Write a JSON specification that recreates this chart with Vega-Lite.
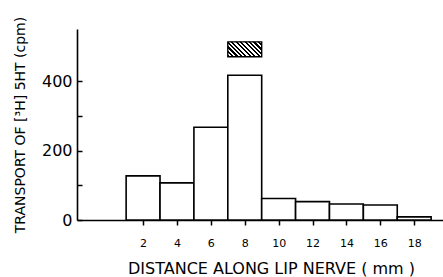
{
  "$schema": "https://vega.github.io/schema/vega-lite/v6.json",
  "width": 366,
  "height": 191,
  "autosize": {"type": "none"},
  "padding": {"left": 77, "top": 29, "right": 0, "bottom": 57},
  "background": "white",
  "config": {
    "view": {"stroke": null},
    "font": "DejaVu Sans",
    "axis": {
      "grid": false,
      "domainColor": "black",
      "domainWidth": 1.6,
      "tickColor": "black",
      "tickWidth": 1.5,
      "labelColor": "black",
      "titleColor": "black",
      "labelFont": "DejaVu Sans",
      "titleFont": "DejaVu Sans",
      "titleFontWeight": "normal"
    }
  },
  "layer": [
    {
      "data": {
        "values": [
          {"start": 1, "end": 3, "transport": 127},
          {"start": 3, "end": 5, "transport": 107},
          {"start": 5, "end": 7, "transport": 267},
          {"start": 7, "end": 9, "transport": 417},
          {"start": 9, "end": 11, "transport": 62},
          {"start": 11, "end": 13, "transport": 53},
          {"start": 13, "end": 15, "transport": 46},
          {"start": 15, "end": 17, "transport": 43},
          {"start": 17, "end": 19, "transport": 9}
        ]
      },
      "mark": {"type": "rect", "fill": "white", "stroke": "black", "strokeWidth": 1.6},
      "encoding": {
        "x": {
          "field": "start",
          "type": "quantitative",
          "scale": {"domain": [-1.9, 19.7], "nice": false, "zero": false},
          "axis": {
            "values": [2, 4, 6, 8, 10, 12, 14, 16, 18],
            "tickSize": 5,
            "labelFontSize": 11,
            "labelPadding": 12,
            "title": "DISTANCE ALONG LIP NERVE ( mm )",
            "titleFontSize": 16,
            "titleX": 194,
            "titleY": 53,
            "titleBaseline": "alphabetic"
          }
        },
        "x2": {"field": "end"},
        "y": {
          "field": "transport",
          "type": "quantitative",
          "scale": {"domain": [0, 550], "nice": false},
          "axis": {
            "values": [0, 100, 200, 300, 400],
            "labelExpr": "datum.value % 200 == 0 ? datum.label : ''",
            "tickSize": -5,
            "labelFontSize": 16,
            "labelPadding": 10,
            "title": "TRANSPORT OF [³H] 5HT (cpm)",
            "titleFontSize": 14,
            "titlePadding": 14
          }
        },
        "y2": {"datum": 0}
      }
    },
    {
      "data": {"values": [{"x0": 7, "x1": 9, "y0": 470, "y1": 513}]},
      "mark": {
        "type": "rect",
        "stroke": "black",
        "strokeWidth": 1.4,
        "fill": {
          "gradient": "linear",
          "x1": 0, "y1": 1, "x2": 1.206, "y2": 0.469,
          "stops": [
            {"offset": 0, "color": "black"}, {"offset": 0.0455, "color": "black"},
            {"offset": 0.0455, "color": "white"}, {"offset": 0.0909, "color": "white"},
            {"offset": 0.0909, "color": "black"}, {"offset": 0.1364, "color": "black"},
            {"offset": 0.1364, "color": "white"}, {"offset": 0.1818, "color": "white"},
            {"offset": 0.1818, "color": "black"}, {"offset": 0.2273, "color": "black"},
            {"offset": 0.2273, "color": "white"}, {"offset": 0.2727, "color": "white"},
            {"offset": 0.2727, "color": "black"}, {"offset": 0.3182, "color": "black"},
            {"offset": 0.3182, "color": "white"}, {"offset": 0.3636, "color": "white"},
            {"offset": 0.3636, "color": "black"}, {"offset": 0.4091, "color": "black"},
            {"offset": 0.4091, "color": "white"}, {"offset": 0.4545, "color": "white"},
            {"offset": 0.4545, "color": "black"}, {"offset": 0.5, "color": "black"},
            {"offset": 0.5, "color": "white"}, {"offset": 0.5455, "color": "white"},
            {"offset": 0.5455, "color": "black"}, {"offset": 0.5909, "color": "black"},
            {"offset": 0.5909, "color": "white"}, {"offset": 0.6364, "color": "white"},
            {"offset": 0.6364, "color": "black"}, {"offset": 0.6818, "color": "black"},
            {"offset": 0.6818, "color": "white"}, {"offset": 0.7273, "color": "white"},
            {"offset": 0.7273, "color": "black"}, {"offset": 0.7727, "color": "black"},
            {"offset": 0.7727, "color": "white"}, {"offset": 0.8182, "color": "white"},
            {"offset": 0.8182, "color": "black"}, {"offset": 0.8636, "color": "black"},
            {"offset": 0.8636, "color": "white"}, {"offset": 0.9091, "color": "white"},
            {"offset": 0.9091, "color": "black"}, {"offset": 0.9545, "color": "black"},
            {"offset": 0.9545, "color": "white"}, {"offset": 1, "color": "white"}
          ]
        }
      },
      "encoding": {
        "x": {"field": "x0", "type": "quantitative"},
        "x2": {"field": "x1"},
        "y": {"field": "y0", "type": "quantitative"},
        "y2": {"field": "y1"}
      }
    }
  ]
}
